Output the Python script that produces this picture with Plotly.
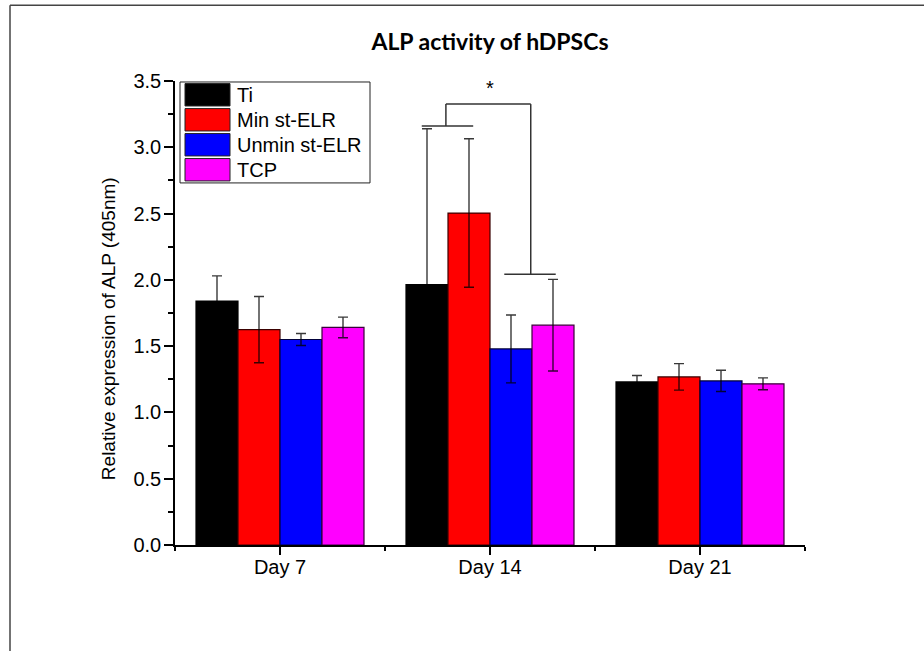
import plotly.graph_objects as go

# Sampling days and surfaces
days = ["Day 7", "Day 14", "Day 21"]
surfaces = ["Ti", "Min st-ELR", "Unmin st-ELR", "TCP"]
colors = ["#000000", "#ff0000", "#0000ff", "#ff00ff"]
edge_colors = ["#000000", "#3a0000", "#00003a", "#3a003a"]

# Relative ALP expression (405 nm), mean and SD per surface across days
ti_mean = [1.84, 1.965, 1.23]
ti_sd = [0.19, 1.175, 0.048]
min_mean = [1.625, 2.504, 1.268]
min_sd = [0.25, 0.56, 0.10]
unmin_mean = [1.55, 1.479, 1.238]
unmin_sd = [0.045, 0.256, 0.08]
tcp_mean = [1.641, 1.658, 1.216]
tcp_sd = [0.078, 0.346, 0.045]

means = [ti_mean, min_mean, unmin_mean, tcp_mean]
sds = [ti_sd, min_sd, unmin_sd, tcp_sd]

# Significance bracket at Day 14 (Ti/Min vs Unmin/TCP)
sig_left_span = [0.675, 0.92]
sig_left_level = 3.16
sig_right_span = [1.068, 1.313]
sig_right_level = 2.042
sig_legs = [0.79, 1.194]
sig_top = 3.326
sig_star_y = 3.45

x_pos = list(range(len(days)))

fig = go.Figure()
for name, m, s, c, ec in zip(surfaces, means, sds, colors, edge_colors):
    fig.add_trace(go.Bar(
        x=x_pos, y=m, name=name,
        marker=dict(color=c, line=dict(color=ec, width=1.2)),
        error_y=dict(type="data", array=s, visible=True,
                     color="rgba(0,0,0,0.78)", thickness=1.4, width=5),
        showlegend=False,
    ))

# Plot area geometry (pixels) used to place paper-referenced items
L, R, T, B = 175, 805, 80.7, 545
W, H = 924, 651


def px(xp):
    return (xp - L) / (R - L)


def py(yp):
    return (B - yp) / (B - T)


shapes = []
line_style = dict(color="#333333", width=1.5)
# bracket
shapes.append(dict(type="line", xref="x", yref="y", x0=sig_left_span[0], x1=sig_left_span[1],
                   y0=sig_left_level, y1=sig_left_level, line=line_style))
shapes.append(dict(type="line", xref="x", yref="y", x0=sig_right_span[0], x1=sig_right_span[1],
                   y0=sig_right_level, y1=sig_right_level, line=line_style))
shapes.append(dict(type="line", xref="x", yref="y", x0=sig_legs[0], x1=sig_legs[0],
                   y0=sig_left_level, y1=sig_top, line=line_style))
shapes.append(dict(type="line", xref="x", yref="y", x0=sig_legs[1], x1=sig_legs[1],
                   y0=sig_right_level, y1=sig_top, line=line_style))
shapes.append(dict(type="line", xref="x", yref="y", x0=sig_legs[0], x1=sig_legs[1],
                   y0=sig_top, y1=sig_top, line=line_style))

# outer frame (top and left edges)
shapes.append(dict(type="line", xref="paper", yref="paper", x0=px(10), x1=px(W + 5),
                   y0=py(5), y1=py(5), line=dict(color="#444444", width=1.5)))
shapes.append(dict(type="line", xref="paper", yref="paper", x0=px(10), x1=px(10),
                   y0=py(5), y1=py(H + 5), line=dict(color="#444444", width=1.5)))

# legend box
shapes.append(dict(type="rect", xref="paper", yref="paper", x0=px(180), x1=px(370),
                   y0=py(182.7), y1=py(81.7), line=dict(color="#222222", width=1),
                   fillcolor="rgba(0,0,0,0)"))

text_font = "Liberation Sans"
annotations = []
row_tops = [83.3, 108.3, 133.3, 158.3]
for name, c, ec, top in zip(surfaces, colors, edge_colors, row_tops):
    shapes.append(dict(type="rect", xref="paper", yref="paper", x0=px(185), x1=px(230),
                       y0=py(top + 22.4), y1=py(top), fillcolor=c,
                       line=dict(color="#222222", width=1)))
    annotations.append(dict(xref="paper", yref="paper", x=px(235), y=py(top + 11.5),
                            text=name, showarrow=False, xanchor="left", yanchor="middle",
                            font=dict(family=text_font, size=20, color="#000000")))

annotations.append(dict(xref="x", yref="y", x=1.0, y=sig_star_y, text="*", showarrow=False,
                        font=dict(family=text_font, size=20, color="#000000")))

# y-axis title
annotations.append(dict(xref="paper", yref="paper", x=px(108), y=py(329),
                        text="Relative expression of ALP (405nm)", textangle=-90,
                        showarrow=False, xanchor="center", yanchor="middle",
                        font=dict(family=text_font, size=19, color="#000000")))

axis_font = dict(family=text_font, size=20, color="#000000")

fig.update_layout(
    width=W, height=H,
    margin=dict(l=L, r=W - R, t=T, b=H - B, pad=0),
    paper_bgcolor="white", plot_bgcolor="white",
    barmode="group", bargap=0.2, bargroupgap=0,
    title=dict(text="<b>ALP activity of hDPSCs</b>", x=px(490), xref="paper",
               y=1 - 42 / H, yanchor="middle", xanchor="center",
               font=dict(family="Lato", size=23, color="#000000")),
    shapes=shapes, annotations=annotations,
    font=axis_font,
)

fig.update_xaxes(
    range=[-0.5, 2.5], tickmode="array", tickvals=x_pos, ticktext=days,
    showline=True, linecolor="#000000", linewidth=1.5, mirror=False,
    ticks="outside", ticklen=8, tickwidth=1.5, tickcolor="#000000",
    showgrid=False, zeroline=False, tickfont=axis_font, ticklabelstandoff=-5,
    minor=dict(tickmode="array", tickvals=[-0.5, 0.5, 1.5, 2.5], ticks="outside",
               ticklen=4, tickwidth=1.5, tickcolor="#000000", showgrid=False),
)
fig.update_yaxes(
    range=[0, 3.5], dtick=0.5, tick0=0, tickformat=".1f",
    showline=True, linecolor="#000000", linewidth=1.5,
    ticks="outside", ticklen=9, tickwidth=1.5, tickcolor="#000000",
    showgrid=False, zeroline=False, tickfont=axis_font, ticklabelstandoff=-1,
    minor=dict(dtick=0.25, ticks="outside", ticklen=5, tickwidth=1.5,
               tickcolor="#000000", showgrid=False),
)

fig.write_html("out.html")
